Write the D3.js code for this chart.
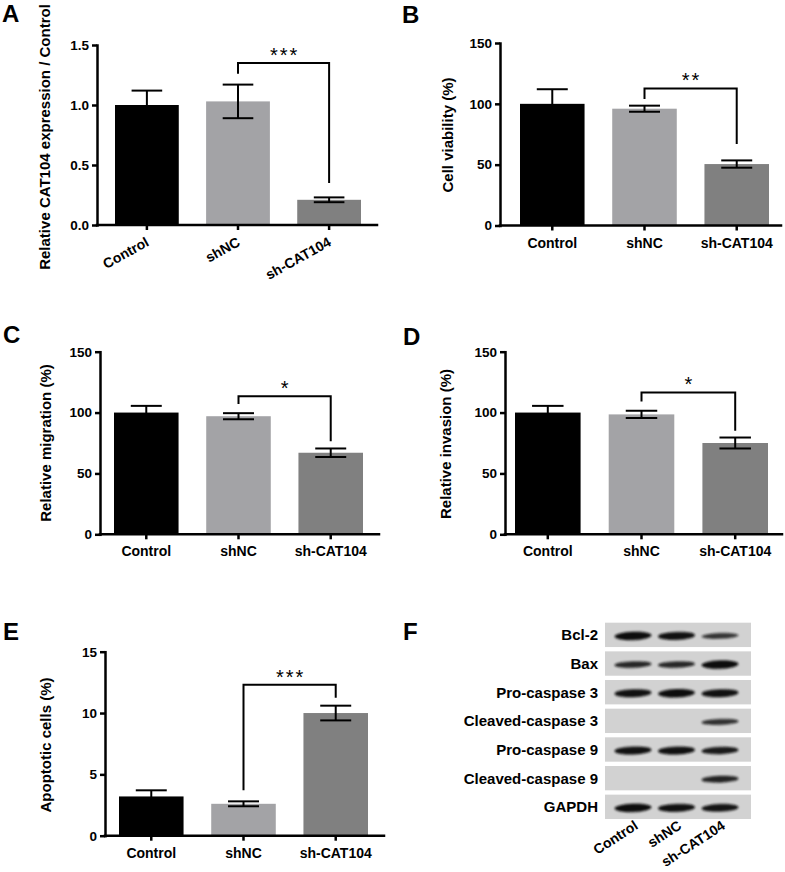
<!DOCTYPE html>
<html><head><meta charset="utf-8">
<script src="https://cdn.jsdelivr.net/npm/d3@7"></script>
<style>
body{margin:0;background:#fff;}
svg{display:block;}
text{font-family:"Liberation Sans",Arial,Helvetica,sans-serif;}
</style>
</head><body>
<svg id="fig" width="785" height="872"></svg>
<script>
// ---------------- DATA ----------------
const groups = ["Control", "shNC", "sh-CAT104"];
const barColors = ["#000000", "#a3a3a6", "#808080"];

const expressionMean = [1.00, 1.03, 0.21];
const expressionSEM  = [0.12, 0.14, 0.02];
const expressionTicks = [0.0, 0.5, 1.0, 1.5];

const viabilityMean = [100, 96, 50.5];
const viabilitySEM  = [12, 2.5, 3];

const migrationMean = [100, 97, 67];
const migrationSEM  = [5.5, 2.5, 3.5];

const invasionMean = [100, 98.5, 75];
const invasionSEM  = [5.5, 3, 4.5];

const apoptosisMean = [3.2, 2.6, 10.0];
const apoptosisSEM  = [0.5, 0.2, 0.6];

const percentTicks = [0, 50, 100, 150];
const apoptosisTicks = [0, 5, 10, 15];

// significance: [from, to, bracket level, left leg end, right leg end, label]
const sigA = ["shNC", "sh-CAT104", 1.35, 1.26, 0.35, "***"];
const sigB = ["shNC", "sh-CAT104", 112.7, 104, 67, "**"];
const sigC = ["shNC", "sh-CAT104", 113.5, 107, 76.5, "*"];
const sigD = ["shNC", "sh-CAT104", 116.5, 109, 85, "*"];
const sigE = ["shNC", "sh-CAT104", 12.3, 3.7, 11.25, "***"];

const blotProteins = ["Bcl-2", "Bax", "Pro-caspase 3", "Cleaved-caspase 3",
                      "Pro-caspase 9", "Cleaved-caspase 9", "GAPDH"];
const blotIntensity = [
  [1.00, 0.95, 0.55],
  [0.70, 0.70, 1.00],
  [0.95, 1.00, 0.95],
  [0.00, 0.00, 0.60],
  [0.95, 0.95, 0.85],
  [0.00, 0.00, 0.75],
  [1.00, 0.95, 0.90]
];

// ---------------- DRAWING ----------------
const svg = d3.select("#fig");
const defs = svg.append("defs");
defs.append("filter").attr("id", "blur").attr("x", "-30%").attr("y", "-100%")
  .attr("width", "160%").attr("height", "300%")
  .append("feGaussianBlur").attr("stdDeviation", 1.1);

function panelLetter(t, x, y) {
  svg.append("text").attr("x", x).attr("y", y).attr("font-size", 24)
    .attr("font-weight", "bold").text(t);
}

function barPanel(cfg) {
  const g = svg.append("g");
  const y = d3.scaleLinear().domain(cfg.domain).range([cfg.y0, cfg.yTop]);
  const x = d3.scaleBand().domain(groups).range(cfg.bars).paddingInner(0.3).paddingOuter(0);
  const bw = x.bandwidth();
  const data = groups.map((k, i) => ({k, m: cfg.mean[i], e: cfg.sem[i], c: barColors[i]}));

  // bars
  g.selectAll("rect.bar").data(data).join("rect").attr("class", "bar")
    .attr("x", d => x(d.k)).attr("width", bw)
    .attr("y", d => y(d.m)).attr("height", d => y(0) - y(d.m))
    .attr("fill", d => d.c);

  // error bars
  const eb = g.selectAll("g.eb").data(data).join("g").attr("class", "eb")
    .attr("stroke", "#000").attr("stroke-width", 2);
  eb.append("line").attr("x1", d => x(d.k) + bw / 2).attr("x2", d => x(d.k) + bw / 2)
    .attr("y1", d => y(d.m - d.e)).attr("y2", d => y(d.m + d.e));
  eb.append("line").attr("x1", d => x(d.k) + bw / 2 - bw * 0.24).attr("x2", d => x(d.k) + bw / 2 + bw * 0.24)
    .attr("y1", d => y(d.m + d.e)).attr("y2", d => y(d.m + d.e));
  eb.append("line").attr("x1", d => x(d.k) + bw / 2 - bw * 0.24).attr("x2", d => x(d.k) + bw / 2 + bw * 0.24)
    .attr("y1", d => y(d.m - d.e)).attr("y2", d => y(d.m - d.e));

  // y axis
  const yAxis = d3.axisLeft(y).tickValues(cfg.ticks).tickFormat(d3.format(cfg.fmt))
    .tickSize(5).tickSizeOuter(0).tickPadding(3);
  const ya = g.append("g").attr("transform", `translate(${cfg.axisX},0)`).call(yAxis);
  ya.select(".domain").attr("stroke-width", 2.5).attr("stroke-linecap", "square");
  ya.selectAll(".tick line").attr("stroke-width", 2.5);
  ya.selectAll(".tick text").attr("font-size", 13.5).attr("font-weight", "bold")
    .attr("fill", "#000").attr("font-family", '"Liberation Sans",Arial,sans-serif');

  // x axis
  g.append("line").attr("x1", cfg.axisX).attr("x2", cfg.axisEnd).attr("y1", cfg.y0).attr("y2", cfg.y0)
    .attr("stroke", "#000").attr("stroke-width", 2.5).attr("stroke-linecap", "square");
  const xAxis = d3.axisBottom(x).tickSize(5).tickSizeOuter(0).tickPadding(8);
  const xa = g.append("g").attr("transform", `translate(0,${cfg.y0})`).call(xAxis);
  xa.select(".domain").remove();
  xa.selectAll(".tick line").attr("stroke-width", 2.5);
  const xt = xa.selectAll(".tick text").attr("font-size", 14).attr("font-weight", "bold")
    .attr("fill", "#000").attr("font-family", '"Liberation Sans",Arial,sans-serif');
  if (cfg.rotate) {
    xt.attr("text-anchor", "end").attr("dy", null).attr("y", 0)
      .attr("transform", `translate(${bw / 2 * 0 + 3},20) rotate(${cfg.rotate})`);
  } else {
    xt.attr("dy", null).attr("y", 22);
  }

  // y title
  g.append("text").attr("transform", `translate(${cfg.titleX},${cfg.titleY}) rotate(-90)`)
    .attr("text-anchor", "middle").attr("font-size", 15).attr("font-weight", "bold").text(cfg.title);

  // significance bracket
  const s = cfg.sig;
  const x1 = x(s[0]) + bw / 2, x2 = x(s[1]) + bw / 2;
  g.append("path").attr("fill", "none").attr("stroke", "#000").attr("stroke-width", 2)
    .attr("d", `M${x1},${y(s[3])}V${y(s[2])}H${x2}V${y(s[4])}`);
  g.append("text").attr("x", (x1 + x2) / 2 + 1).attr("y", y(s[2]) - 1)
    .attr("text-anchor", "middle").attr("font-size", 20).attr("letter-spacing", 2)
    .text(s[5]);

  panelLetter(cfg.letter, cfg.letterX, cfg.letterY);
}

barPanel({mean: expressionMean, sem: expressionSEM, ticks: expressionTicks, domain: [0, 1.5], fmt: ".1f",
  axisX: 97, axisEnd: 377, y0: 225, yTop: 45, bars: [115, 361], rotate: -29,
  title: "Relative CAT104 expression / Control", titleX: 50, titleY: 137, sig: sigA,
  letter: "A", letterX: 2, letterY: 22});

barPanel({mean: viabilityMean, sem: viabilitySEM, ticks: percentTicks, domain: [0, 150], fmt: "d",
  axisX: 500, axisEnd: 781, y0: 225.5, yTop: 43, bars: [520, 769],
  title: "Cell viability (%)", titleX: 453, titleY: 135, sig: sigB,
  letter: "B", letterX: 402, letterY: 23});

barPanel({mean: migrationMean, sem: migrationSEM, ticks: percentTicks, domain: [0, 150], fmt: "d",
  axisX: 100, axisEnd: 379, y0: 534.3, yTop: 351.7, bars: [114, 363],
  title: "Relative migration (%)", titleX: 51, titleY: 443, sig: sigC,
  letter: "C", letterX: 3, letterY: 343});

barPanel({mean: invasionMean, sem: invasionSEM, ticks: percentTicks, domain: [0, 150], fmt: "d",
  axisX: 505, axisEnd: 782, y0: 534.3, yTop: 351.7, bars: [515, 768],
  title: "Relative invasion (%)", titleX: 451, titleY: 444, sig: sigD,
  letter: "D", letterX: 403, letterY: 345});

barPanel({mean: apoptosisMean, sem: apoptosisSEM, ticks: apoptosisTicks, domain: [0, 15], fmt: "d",
  axisX: 105, axisEnd: 384, y0: 835.7, yTop: 651.7, bars: [119, 368],
  title: "Apoptotic cells (%)", titleX: 51, titleY: 745, sig: sigE,
  letter: "E", letterX: 3, letterY: 640});

// ---------------- WESTERN BLOT (F) ----------------
(function () {
  const g = svg.append("g");
  const rowScale = d3.scaleBand().domain(blotProteins).range([622.7, 819]).paddingInner(0.15);
  const laneScale = d3.scaleBand().domain(groups).range([611.25, 741.75]);
  const rh = rowScale.bandwidth();

  const rows = g.selectAll("g.row").data(blotProteins).join("g").attr("class", "row")
    .attr("transform", d => `translate(0,${rowScale(d)})`);
  rows.append("rect").attr("x", 605).attr("width", 146).attr("y", 0).attr("height", rh)
    .attr("fill", "#d2d2d2");
  rows.append("text").attr("x", 598).attr("y", rh / 2 + 5.5).attr("text-anchor", "end")
    .attr("font-size", 15).attr("font-weight", "bold").text(d => d);

  rows.each(function (p, ri) {
    const r = d3.select(this);
    const bands = groups.map((k, li) => ({k, v: blotIntensity[ri][li]})).filter(b => b.v > 0);
    r.selectAll("ellipse").data(bands).join("ellipse")
      .attr("cx", b => laneScale(b.k) + laneScale.bandwidth() / 2)
      .attr("cy", rh / 2 + 1)
      .attr("rx", 18.5)
      .attr("ry", b => 1.2 + 3 * b.v)
      .attr("fill", "#111")
      .attr("opacity", b => 0.55 + 0.45 * b.v)
      .attr("filter", "url(#blur)")
      .attr("transform", b => `rotate(-2,${laneScale(b.k) + laneScale.bandwidth() / 2},${rh / 2 + 1})`);
  });

  g.selectAll("text.lane").data(groups).join("text").attr("class", "lane")
    .attr("text-anchor", "end").attr("font-size", 14).attr("font-weight", "bold")
    .attr("transform", d => `translate(${laneScale(d) + laneScale.bandwidth() / 2 + 6},828) rotate(-33)`)
    .text(d => d);

  panelLetter("F", 403, 640);
})();
</script>
</body></html>
